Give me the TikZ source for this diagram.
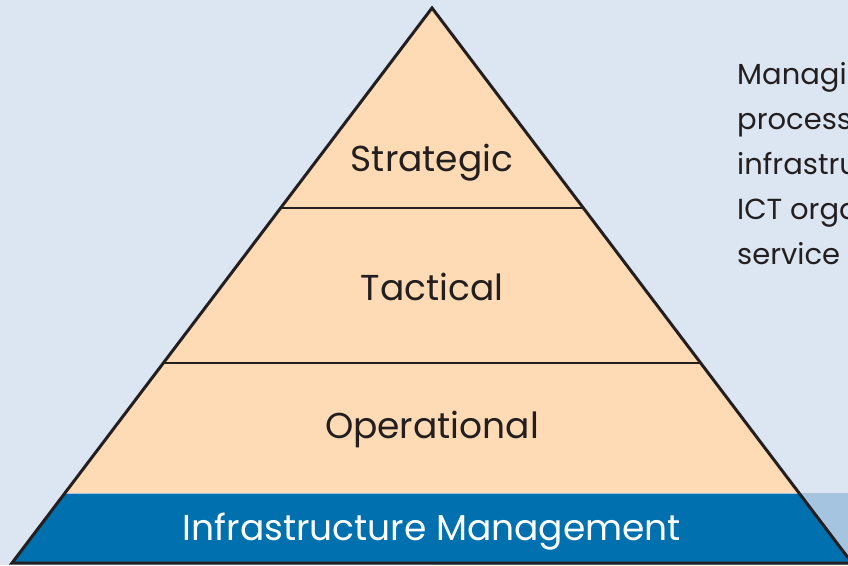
\documentclass[tikz,border=0pt]{standalone}
\usepackage{fontspec}
\setmainfont{Poppins}
\usetikzlibrary{calc}
\definecolor{paleblue}{HTML}{DCE6F2}
\definecolor{bandblue}{HTML}{A5C4E0}
\definecolor{peach}{HTML}{FEDBB4}
\definecolor{infrablue}{HTML}{0070AF}
\definecolor{ink}{HTML}{231F20}
\tikzset{
  layer/.style={font=\fontsize{36}{40}\selectfont, text=ink, anchor=base},
  sidetext/.style={font=\fontsize{29}{36}\selectfont, text=ink, anchor=base west, inner sep=0pt}
}
\begin{document}
\begin{tikzpicture}[x=1pt,y=1pt]
	\useasboundingbox (0,0) rectangle (848,565);
	\clip (0,0) rectangle (848,565);
	\fill[paleblue] (0,0) rectangle (848,565);
	\fill[bandblue] (432,0) rectangle (848,72);
	\coordinate (apex) at (432,557);
	\coordinate (bl) at (12,2);
	\coordinate (br) at (852,2);
	\coordinate (s1) at ($(apex)!0.360!(bl)$);
	\coordinate (s2) at ($(apex)!0.360!(br)$);
	\coordinate (t1) at ($(apex)!0.640!(bl)$);
	\coordinate (t2) at ($(apex)!0.640!(br)$);
	\coordinate (i1) at ($(apex)!0.874!(bl)$);
	\coordinate (i2) at ($(apex)!0.874!(br)$);
	\fill[peach] (apex)--(bl)--(br)--cycle;
	\fill[infrablue] (i1)--(bl)--(br)--(i2)--cycle;
	\draw[bandblue, line width=1pt] (i1)--(i2);
	\draw[ink, line width=1.6pt] (s1)--(s2);
	\draw[ink, line width=1.6pt] (t1)--(t2);
	\draw[ink, line width=3pt, line join=miter] (apex)--(bl)--(br)--cycle;
	\node (strategic)[layer] at (432,393) {Strategic};
	\node (tactical)[layer] at (432,264) {Tactical};
	\node (operational)[layer] at (432,127) {Operational};
	\node (infra)[layer, text=white] at (432,25) {Infrastructure Management};
	\foreach \txt [count=\i] in {Managin, process, infrastru, ICT orga, service}
		\node (side\i)[sidetext] at (737,525-45*\i) {\txt};
\end{tikzpicture}
\end{document}
